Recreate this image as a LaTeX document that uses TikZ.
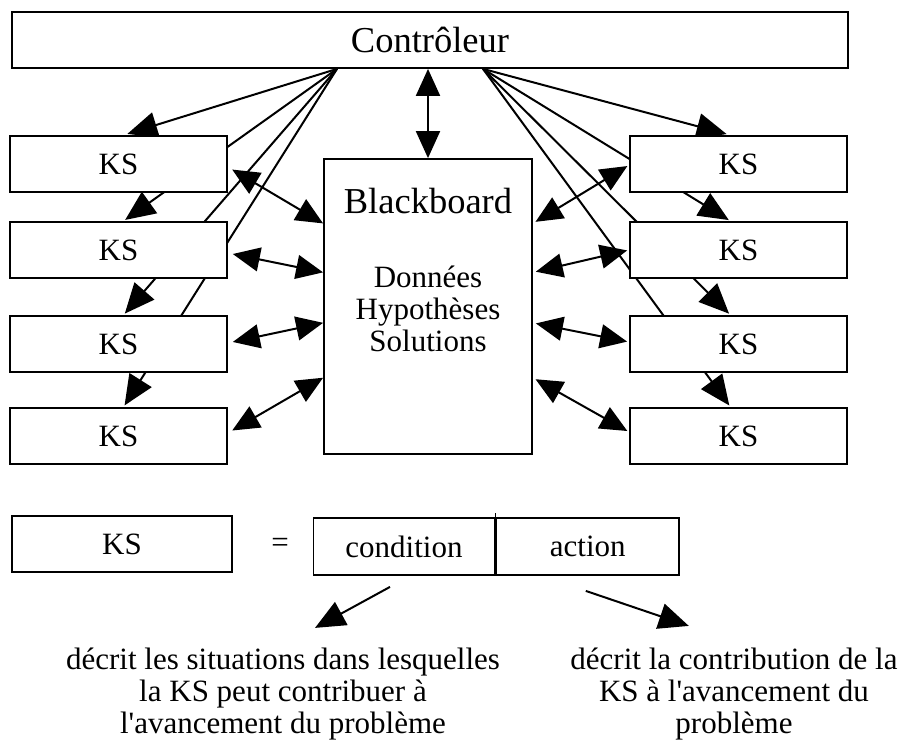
\documentclass[tikz,border=0pt]{standalone}
\usepackage{fontspec}
\setmainfont{Liberation Serif}[Ligatures=TeXOff]
\usepackage{tikz}
\usetikzlibrary{arrows.meta,positioning,calc,backgrounds}

\begin{document}
\begin{tikzpicture}[
  x=1pt, y=-1pt,
  box/.style={draw, line width=1.8pt, fill=white, minimum height=56pt, inner sep=0pt, font=\fontsize{31}{32}\selectfont},
  ks/.style={box, minimum width=217pt},
  big/.style={font=\fontsize{36.5}{38}\selectfont},
  arrow/.style={-{Triangle[length=30pt, width=26pt]}, line width=2pt},
  darrow/.style={{Triangle[length=27pt, width=24pt]}-{Triangle[length=27pt, width=24pt]}, line width=2pt},
  note/.style={align=center, font=\fontsize{31}{32}\selectfont}
]
\useasboundingbox (0,0) rectangle (905,740);

\node[box, big, minimum width=836pt] (ctrl) at (430,40) {Contrôleur};

\node[ks] (ksl1) at (118.5,164) {KS};
\node[ks] (ksl2) at (118.5,250) {KS};
\node[ks] (ksl3) at (118.5,344) {KS};
\node[ks] (ksl4) at (118.5,436) {KS};

\node[ks] (ksr1) at (738.5,164) {KS};
\node[ks] (ksr2) at (738.5,250) {KS};
\node[ks] (ksr3) at (738.5,344) {KS};
\node[ks] (ksr4) at (738.5,436) {KS};

\node[box, minimum width=208pt, minimum height=295pt] (bb) at (428,306.5) {};
\node[big, anchor=base] (bbtitle) at (428,213) {Blackboard};
\node[note] (bbdata) at (428,309) {Données\\Hypothèses\\Solutions};

\coordinate (fanl) at ([xshift=-93pt]ctrl.south);
\coordinate (fanr) at ([xshift=53pt]ctrl.south);

\begin{scope}[on background layer]
\draw[arrow, shorten >=4pt] (fanl) -- ([xshift=5pt]ksl1.north);
\draw[arrow, shorten >=2pt] (fanl) -- ([xshift=5pt]ksl2.north);
\draw[arrow, shorten >=2pt] (fanl) -- ([xshift=5pt]ksl3.north);
\draw[arrow, shorten >=2pt] (fanl) -- ([xshift=5pt]ksl4.north);
\draw[arrow, shorten >=4pt] (fanr) -- ([xshift=-8pt]ksr1.north);
\draw[arrow, shorten >=2pt] (fanr) -- ([xshift=-8pt]ksr2.north);
\draw[arrow, shorten >=2pt] (fanr) -- ([xshift=-8pt]ksr3.north);
\draw[arrow, shorten >=2pt] (fanr) -- ([xshift=-8pt]ksr4.north);
\end{scope}

\draw[darrow] (bb.north |- ctrl.south) -- (bb.north);

\draw[darrow, shorten <=5pt] ([yshift=-3pt]ksl1.east) -- ($(bb.north west)!0.22!(bb.south west)$);
\draw[darrow, shorten <=5pt] ([yshift=-3pt]ksl2.east) -- ($(bb.north west)!0.385!(bb.south west)$);
\draw[darrow, shorten <=5pt] ([yshift=1pt]ksl3.east) -- ($(bb.north west)!0.555!(bb.south west)$);
\draw[darrow, shorten <=5pt] ([yshift=3pt]ksl4.east) -- ($(bb.north west)!0.74!(bb.south west)$);
\draw[darrow, shorten <=2pt, shorten >=3pt] ([yshift=-1pt]ksr1.west) -- ($(bb.north east)!0.22!(bb.south east)$);
\draw[darrow, shorten <=2pt, shorten >=3pt] (ksr2.west) -- ($(bb.north east)!0.385!(bb.south east)$);
\draw[darrow, shorten <=2pt, shorten >=3pt] ([yshift=2pt]ksr3.west) -- ($(bb.north east)!0.555!(bb.south east)$);
\draw[darrow, shorten <=2pt, shorten >=3pt] ([yshift=4pt]ksr4.west) -- ($(bb.north east)!0.74!(bb.south east)$);

\node[box, minimum width=220pt] (ksdef) at (122,544) {KS};
\node[font=\fontsize{31}{32}\selectfont] (eq) at (280,545) {=};
\node[box, minimum width=181pt, minimum height=57pt] (cond) at (404,546.5) {condition};
\node[box, minimum width=183pt, minimum height=57pt, anchor=west] (act) at (cond.east) {action};
\draw[line width=1.8pt] (cond.north east) -- ++(0,-4);

\node[note] (condtxt) at (283,694) {décrit les situations dans lesquelles\\la KS peut contribuer à\\l'avancement du problème};
\node[note] (acttxt) at (734,694) {décrit la contribution de la\\KS à l'avancement du\\problème};

\draw[arrow] ([xshift=-14pt,yshift=-11pt]cond.south) -- ++(-75,41);
\draw[arrow] ([xshift=-2pt,yshift=-15pt]act.south) -- ++(103,35);

\end{tikzpicture}
\end{document}
